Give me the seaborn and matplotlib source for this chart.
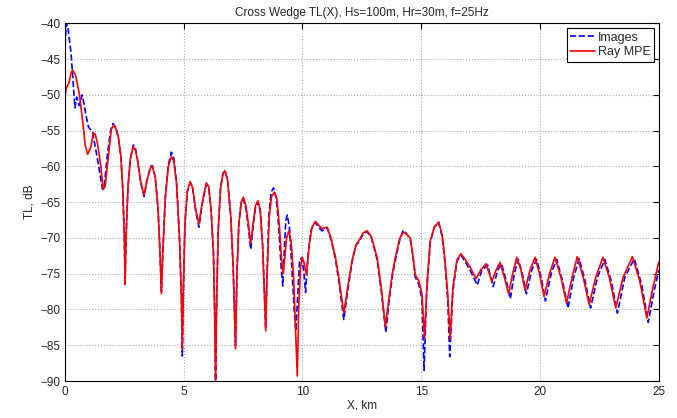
import numpy as np
import pandas as pd
import matplotlib
matplotlib.use("Agg")
import matplotlib.pyplot as plt
import seaborn as sns

# Ray MPE (red, solid)
ray_x = [0.00, 0.05, 0.15, 0.25, 0.32, 0.45, 0.60, 0.74, 0.85, 0.95, 1.09, 1.19, 1.27, 1.37, 1.51, 1.61, 1.69, 1.78, 1.86, 1.95,
         2.05, 2.15, 2.25, 2.35, 2.43, 2.50, 2.53, 2.57, 2.65, 2.75, 2.87, 2.97, 3.05, 3.18, 3.33, 3.45, 3.60, 3.68, 3.80, 3.92,
         4.00, 4.06, 4.12, 4.22, 4.35, 4.48, 4.58, 4.70, 4.82, 4.90, 4.94, 4.98, 5.05, 5.15, 5.27, 5.38, 5.50, 5.64, 5.78, 5.95,
         6.05, 6.15, 6.25, 6.30, 6.34, 6.38, 6.45, 6.55, 6.65, 6.74, 6.85, 6.98, 7.08, 7.18, 7.24, 7.32, 7.42, 7.51, 7.62, 7.72,
         7.82, 7.92, 8.02, 8.12, 8.22, 8.32, 8.40, 8.45, 8.50, 8.60, 8.70, 8.82, 8.92, 9.02, 9.12, 9.18, 9.25, 9.33, 9.43, 9.52,
         9.62, 9.70, 9.78, 9.84, 9.92, 9.99, 10.07, 10.17, 10.28, 10.40, 10.55, 10.70, 10.83, 11.04, 11.20, 11.39, 11.55, 11.74,
         11.90, 12.09, 12.25, 12.37, 12.55, 12.72, 12.90, 13.14, 13.32, 13.49, 13.62, 13.78, 13.91, 14.10, 14.26, 14.40, 14.54,
         14.65, 14.75, 14.90, 15.03, 15.14, 15.25, 15.38, 15.55, 15.73, 15.88, 16.00, 16.12, 16.22, 16.33, 16.50, 16.67, 16.85,
         17.06, 17.31, 17.50, 17.73, 17.97, 18.15, 18.32, 18.50, 18.68, 18.85, 19.02, 19.20, 19.37, 19.58, 19.79, 19.98, 20.17,
         20.40, 20.63, 20.88, 21.12, 21.35, 21.57, 21.82, 22.07, 22.35, 22.65, 22.92, 23.19, 23.50, 23.89, 24.20, 24.50, 24.75, 25.00]
ray_tl = [-50.2, -49.0, -48.5, -47.0, -46.5, -47.3, -49.8, -53.5, -57.0, -58.3, -57.3, -55.3, -55.5, -56.8, -60.0, -63.2, -62.8, -60.0, -57.6, -54.8,
          -54.2, -54.8, -56.0, -58.5, -63.0, -70.0, -76.5, -70.0, -63.0, -59.0, -57.2, -57.8, -59.0, -62.0, -64.0, -62.0, -60.2, -60.0, -61.5, -66.0,
          -72.0, -77.8, -72.0, -64.5, -60.0, -58.6, -59.2, -62.5, -70.0, -78.0, -85.5, -78.0, -68.0, -63.5, -62.1, -63.0, -66.0, -68.0, -65.0, -62.3,
          -62.8, -66.0, -72.0, -80.0, -90.0, -80.0, -69.0, -63.0, -61.0, -60.6, -62.0, -67.0, -74.0, -85.5, -75.0, -68.0, -65.0, -64.3, -65.5, -68.0,
          -70.8, -68.0, -65.5, -64.8, -66.0, -71.0, -78.0, -83.0, -76.0, -67.0, -64.2, -63.6, -64.5, -68.0, -73.0, -75.0, -73.0, -70.0, -69.0, -70.5,
          -75.0, -82.0, -89.3, -80.0, -74.0, -72.7, -73.5, -75.2, -71.0, -68.5, -67.7, -68.3, -68.7, -68.5, -70.0, -72.7, -76.0, -80.5,
          -77.0, -73.1, -71.0, -70.4, -69.3, -69.0, -69.8, -72.7, -77.0, -82.4, -79.0, -75.0, -72.7, -70.0, -69.2, -69.5, -70.0,
          -72.5, -75.2, -76.0, -77.8, -84.0, -76.0, -70.4, -68.5, -67.8, -69.5, -73.1, -78.0, -84.2, -77.0, -73.1, -72.2, -73.0,
          -74.1, -75.7, -74.5, -73.6, -76.1, -74.5, -73.4, -75.5, -77.8, -75.0, -72.7, -74.5, -77.3, -74.5, -72.7, -75.0, -78.2,
          -75.0, -72.7, -75.5, -79.1, -75.5, -72.6, -75.5, -79.3, -75.5, -72.7, -75.5, -79.8, -75.5, -72.6, -76.0, -81.2, -77.0, -73.4]

# Images (blue, dashed)
img_x = [0.00, 0.06, 0.12, 0.25, 0.35, 0.42, 0.49, 0.60, 0.72, 0.80, 0.88, 0.99, 1.16, 1.30, 1.42, 1.58, 1.66, 1.79, 1.92,
         2.02, 2.15, 2.25, 2.35, 2.43, 2.50, 2.53, 2.57, 2.65, 2.75, 2.88, 2.97, 3.05, 3.18, 3.33, 3.45, 3.60, 3.68, 3.80, 3.92,
         4.00, 4.06, 4.12, 4.22, 4.35, 4.48, 4.58, 4.70, 4.82, 4.90, 4.94, 4.98, 5.05, 5.15, 5.27, 5.38, 5.50, 5.64, 5.78, 5.95,
         6.05, 6.15, 6.25, 6.30, 6.34, 6.38, 6.45, 6.55, 6.65, 6.74, 6.85, 6.98, 7.08, 7.18, 7.24, 7.32, 7.42, 7.51, 7.62, 7.72,
         7.82, 7.92, 8.02, 8.12, 8.22, 8.32, 8.40, 8.45, 8.50, 8.58, 8.68, 8.78, 8.90, 9.00, 9.10, 9.17, 9.23, 9.30, 9.36, 9.45,
         9.55, 9.65, 9.72, 9.80, 9.88, 9.97, 10.05, 10.13, 10.22, 10.35, 10.52, 10.70, 10.83, 11.04, 11.20, 11.39, 11.55, 11.74,
         11.90, 12.09, 12.25, 12.37, 12.55, 12.72, 12.90, 13.14, 13.32, 13.51, 13.64, 13.80, 13.93, 14.10, 14.24, 14.40, 14.54,
         14.65, 14.75, 14.90, 15.03, 15.12, 15.22, 15.38, 15.55, 15.73, 15.88, 16.00, 16.12, 16.20, 16.33, 16.50, 16.67, 16.85,
         17.10, 17.36, 17.55, 17.80, 18.03, 18.22, 18.38, 18.58, 18.75, 18.92, 19.08, 19.26, 19.43, 19.65, 19.86, 20.05, 20.23,
         20.47, 20.70, 20.95, 21.18, 21.42, 21.65, 21.90, 22.13, 22.42, 22.73, 23.00, 23.26, 23.57, 23.97, 24.28, 24.56, 24.80, 25.00]
img_tl = [-43.0, -40.0, -40.5, -44.0, -48.6, -51.8, -50.3, -51.5, -50.0, -51.2, -52.8, -54.5, -55.2, -57.7, -60.0, -63.2, -62.5, -58.2, -55.0,
          -54.0, -54.6, -56.0, -58.5, -63.0, -70.0, -76.0, -70.0, -63.0, -59.0, -57.0, -57.6, -59.0, -62.2, -64.2, -62.0, -60.0, -59.9, -61.5, -66.0,
          -72.0, -77.5, -72.0, -64.5, -59.8, -58.0, -58.8, -62.5, -70.0, -78.0, -86.5, -78.0, -68.0, -63.5, -62.2, -63.2, -66.2, -68.5, -65.2, -62.5,
          -63.0, -66.0, -72.0, -80.0, -90.0, -80.0, -69.0, -63.0, -61.0, -60.6, -62.0, -67.0, -74.0, -85.0, -75.0, -68.0, -65.0, -64.6, -66.0, -68.5,
          -71.6, -68.5, -65.8, -65.0, -66.2, -71.0, -78.0, -82.5, -76.0, -67.0, -63.6, -63.0, -64.5, -68.5, -74.0, -76.7, -72.0, -67.5, -66.8, -68.5,
          -74.0, -80.0, -83.0, -78.0, -73.0, -72.8, -74.5, -77.6, -73.0, -69.0, -67.8, -68.6, -69.0, -68.6, -70.2, -73.0, -76.5, -81.4,
          -77.5, -73.3, -71.0, -70.6, -69.5, -69.1, -70.0, -73.0, -77.5, -83.2, -79.0, -75.0, -72.8, -70.2, -68.9, -69.5, -70.2,
          -72.5, -75.5, -76.5, -78.5, -88.5, -78.0, -70.6, -68.5, -67.8, -69.8, -73.5, -79.0, -86.6, -77.5, -73.3, -72.4, -73.3,
          -74.8, -76.6, -74.5, -73.8, -76.8, -74.5, -73.6, -76.0, -78.5, -75.0, -73.0, -75.0, -77.8, -74.5, -73.0, -75.5, -78.8,
          -75.0, -73.0, -76.0, -79.8, -75.5, -72.9, -76.0, -79.8, -75.5, -73.0, -76.0, -80.5, -75.5, -72.9, -76.5, -81.8, -77.5, -74.5]

x_ticks = [0, 5, 10, 15, 20, 25]
y_ticks = [-90, -85, -80, -75, -70, -65, -60, -55, -50, -45, -40]

sns.set_style("white")
plt.rcParams['font.family'] = ['Liberation Sans', 'DejaVu Sans']

fig = plt.figure(figsize=(6.77, 4.18), dpi=100)
ax = fig.add_axes([0.096, 0.0885, 0.877, 0.8555])

df_img = pd.DataFrame({"x": img_x, "tl": img_tl})
df_ray = pd.DataFrame({"x": ray_x, "tl": ray_tl})

sns.lineplot(data=df_img, x="x", y="tl", ax=ax, color="#0000ff", linestyle="--",
             linewidth=1.2, label="Images", estimator=None)
sns.lineplot(data=df_ray, x="x", y="tl", ax=ax, color="#ff0000", linestyle="-",
             linewidth=1.2, label="Ray MPE", estimator=None)

ax.set_xlim(0, 25)
ax.set_ylim(-90, -40)
ax.set_xticks(x_ticks)
ax.set_yticks(y_ticks)
ax.grid(True, linestyle=":", color="#aaaaaa", linewidth=0.8)
ax.tick_params(direction="in", top=True, right=True, labelsize=8.5, length=4, color="black")
for s in ax.spines.values():
    s.set_color("black")
    s.set_linewidth(0.8)

ax.set_title("Cross Wedge TL(X), Hs=100m, Hr=30m, f=25Hz", fontsize=8.5, pad=5)
ax.set_xlabel("X, km", fontsize=8.5, labelpad=1)
ax.set_ylabel("TL, dB", fontsize=8.5, labelpad=3)

leg = ax.legend(loc="upper right", fontsize=9, frameon=True, fancybox=False,
                edgecolor="black", framealpha=1, borderaxespad=0.35,
                handlelength=2.0, handletextpad=0.2, borderpad=0.3, labelspacing=0.2)
leg.get_frame().set_linewidth(0.8)

fig.savefig("out.png", dpi=100)
